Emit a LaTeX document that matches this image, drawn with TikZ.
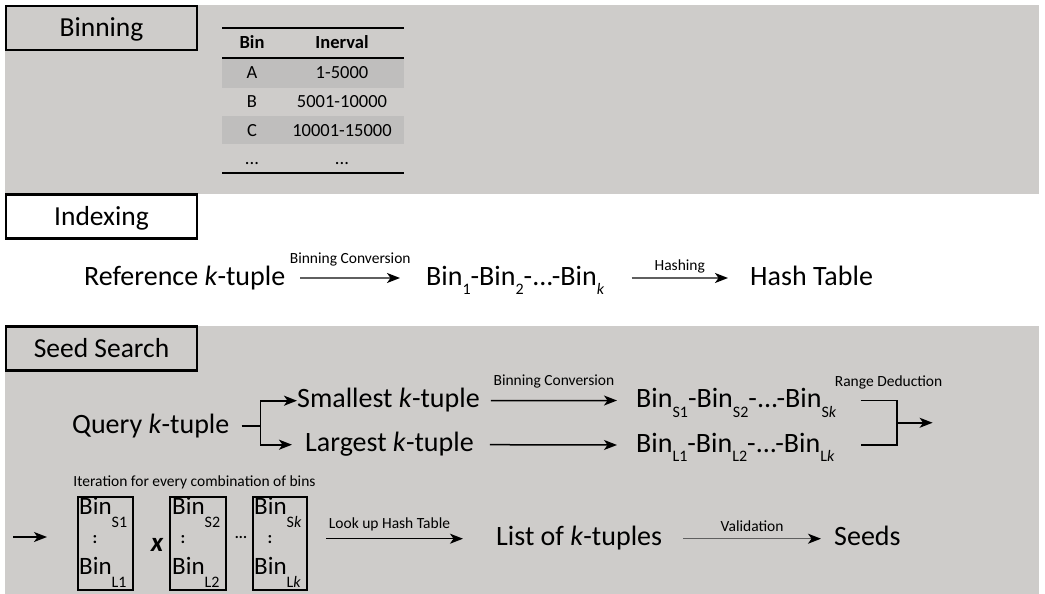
\documentclass[tikz,border=0pt]{standalone}
\usepackage{fontspec}
\setmainfont{Carlito}
\usetikzlibrary{arrows.meta,calc}
\definecolor{bgray}{RGB}{206,204,202}
\definecolor{rowgray}{RGB}{191,190,189}
\definecolor{linegray}{RGB}{95,95,95}
\newcommand\lowsub[2][0.34em]{\raisebox{-#1}{\fontsize{16}{16}\selectfont #2}}
\begin{document}
\begin{tikzpicture}[x=1pt,y=-1pt,
  body/.style={inner sep=0pt, anchor=base west, font=\fontsize{28}{30}\selectfont, text height=20pt, text depth=6pt},
  boxtxt/.style={inner sep=0pt, anchor=base west, font=\fontsize{25}{26}\selectfont},
  colon/.style={inner sep=0pt, font=\fontsize{17}{17}\selectfont\bfseries},
  title/.style={draw, line width=2.4pt, minimum width=191pt, minimum height=44pt, inner sep=0pt,
    font=\fontsize{27.5}{28}\selectfont, text height=17.5pt, text depth=0pt},
  binbox/.style={draw, line width=2pt, inner sep=0pt, minimum height=93pt},
  lbl/.style={inner sep=0pt, font=\fontsize{15.5}{16}\selectfont},
  tbl/.style={inner sep=0pt, anchor=base, font=\fontsize{18.5}{20}\selectfont},
  barr/.style={line width=1.5pt, -{Stealth[length=13pt,width=10pt,inset=3.5pt]}},
  garr/.style={line width=1.5pt, draw=linegray, -{Stealth[length=13pt,width=10pt,inset=3.5pt,color=black]}},
  blkline/.style={line width=1.8pt}]
\useasboundingbox (0,0) rectangle (1045,594);
% backgrounds
\fill[bgray] (4.7,4.7) rectangle (1038.7,194);
\fill[bgray] (4.7,326) rectangle (1038.7,594);
% titles
\node[title, fill=bgray] (tbin) at (101.5,28) {Binning};
\node[title, fill=white] (tidx) at (101.5,216.5) {Indexing};
\node[title, fill=bgray] (tseed) at (101.5,348.5) {Seed Search};
% table
\fill[rowgray] (222,58) rectangle (404,88);
\fill[rowgray] (222,116) rectangle (404,144);
\draw[line width=2pt] (222,28) -- (404,28);
\draw[line width=1.6pt] (222,58) -- (404,58);
\draw[line width=2pt] (222,173) -- (404,173);
\node[tbl] (h1) at (252,49) {\bfseries Bin};
\node[tbl] (h2) at (342,49) {\bfseries Inerval};
\node[tbl] (a1) at (252,79) {A};
\node[tbl] (a2) at (342,79) {1-5000};
\node[tbl] (b1) at (252,107.7) {B};
\node[tbl] (b2) at (342,107.7) {5001-10000};
\node[tbl] (c1) at (252,136) {C};
\node[tbl] (c2) at (342,136) {10001-15000};
\node[tbl] (d1) at (252,164) {...};
\node[tbl] (d2) at (342,164) {...};
% indexing row
\node[body] (ref) at (84,285) {Reference \textit{k}-tuple};
\node[body] (bin1) at (426,285) {Bin\lowsub{1}-Bin\lowsub{2}-...-Bin\lowsub{\textit{k}}};
\node[body] (hash) at (750,285) {Hash Table};
\draw[garr] ([xshift=15pt]ref.east) -- node[lbl, yshift=19pt]{Binning Conversion} ([xshift=-26pt]bin1.west);
\draw[garr] ([xshift=27pt]bin1.east) -- node[lbl, yshift=12pt]{Hashing} ([xshift=-22pt]hash.west);
% seed search rows
\node[body] (query) at (72,433) {Query \textit{k}-tuple};
\node[body] (small) at (297,407.7) {Smallest \textit{k}-tuple};
\node[body] (large) at (305,451.7) {Largest \textit{k}-tuple};
\node[body] (binS) at (636,407.5) {Bin\lowsub{S1}-Bin\lowsub{S2}-...-Bin\lowsub{S\textit{k}}};
\node[body] (binL) at (636,452) {Bin\lowsub{L1}-Bin\lowsub{L2}-...-Bin\lowsub{L\textit{k}}};
\coordinate (br) at ($(query.east)+(31,0)$);
\draw[blkline] ([xshift=12pt]query.east) -- (br);
\draw[barr, line width=1.8pt] (br) |- (small.west);
\draw[barr, line width=1.8pt] (br) |- ([xshift=-13pt]large.west);
\draw[barr] ([xshift=11pt]small.east) -- node[lbl, yshift=19pt]{Binning Conversion} ([xshift=-19pt]binS.west);
\draw[barr] ([xshift=16pt]large.east) -- ([xshift=-19pt]binL.west);
\coordinate (rdtop) at ($(binS.east)+(60,0)$);
\coordinate (rdbot) at (rdtop |- binL.east);
\draw[blkline] ([xshift=24pt]binS.east) -- (rdtop) -- (rdbot) -- ($(binS.east |- binL.east)+(24,0)$);
\node[lbl] (rdlab) at ($(rdtop)+(-8,-18)$) {Range Deduction};
\coordinate (rdmid) at ($(rdtop)!0.5!(rdbot)$);
\coordinate (rdout) at ($(rdmid)+(36,0)$);
\draw[barr] (rdmid) -- (rdout);
% bottom row
\coordinate (contB) at (13,537);
\coordinate (contBend) at (47,537);
\draw[barr] (contB) -- (contBend);
\node[lbl] (iter) at (194.5,482) {Iteration for every combination of bins};
\node[binbox, minimum width=55pt] (box1) at (105.5,543.5) {};
\node[binbox, minimum width=56pt] (box2) at (198,543.5) {};
\node[binbox, minimum width=54pt] (box3) at (280,543.5) {};
\node[boxtxt] (b1t) at ($(box1.north west)+(2,18)$) {Bin\lowsub[0.52em]{S1}};
\node[colon] (b1c) at ($(box1.west)+(18,-4)$) {:};
\node[boxtxt] (b1b) at ($(box1.south west)+(2,-17)$) {Bin\lowsub[0.52em]{L1}};
\node[boxtxt] (b2t) at ($(box2.north west)+(3,18)$) {Bin\lowsub[0.52em]{S2}};
\node[colon] (b2c) at ($(box2.west)+(14,-4)$) {:};
\node[boxtxt] (b2b) at ($(box2.south west)+(3,-17)$) {Bin\lowsub[0.52em]{L2}};
\node[boxtxt] (b3t) at ($(box3.north west)+(2,18)$) {Bin\lowsub[0.52em]{S\textit{k}}};
\node[colon] (b3c) at ($(box3.west)+(18,-4)$) {:};
\node[boxtxt] (b3b) at ($(box3.south west)+(2,-17)$) {Bin\lowsub[0.52em]{L\textit{k}}};
\node[inner sep=0pt, font=\fontsize{27}{27}\selectfont\bfseries\itshape] (times) at (157,545) {x};
\node[inner sep=0pt, font=\fontsize{15}{15}\selectfont\bfseries] (dots) at (241,537) {...};
\node[body] (list) at (496,545.7) {List of \textit{k}-tuples};
\node[body] (seeds) at (834,545.7) {Seeds};
\draw[barr] ($(box3.east |- list.west)+(18,0)$) -- node[lbl, yshift=14pt, xshift=-5pt]{Look up Hash Table} ($(list.west)+(-33,0)$);
\draw[garr] ([xshift=21pt]list.east) -- node[lbl, yshift=13pt]{Validation} ([xshift=-13pt]seeds.west);
\end{tikzpicture}
\end{document}
